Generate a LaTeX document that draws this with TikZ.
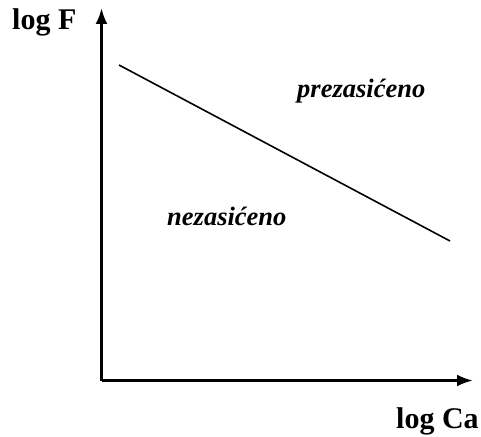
\documentclass[tikz,border=0pt]{standalone}
\usepackage{fontspec}
\setmainfont{Liberation Serif}
\usetikzlibrary{arrows.meta, positioning}

\begin{document}
\begin{tikzpicture}[x=1pt, y=-1pt,
    axis/.style={line width=2.8pt, -{Latex[length=16pt, width=12pt]}},
    border/.style={line width=1.6pt},
    axislabel/.style={font=\fontsize{30}{33}\selectfont\bfseries, inner sep=0pt, anchor=base west},
    region/.style={font=\fontsize{26.5}{30}\selectfont\bfseries\itshape, inner sep=0pt, anchor=base west}]
    % frame of the picture
    \useasboundingbox (0, 0) rectangle (481, 436);

    % Axes
    \coordinate (origin) at (101.5, 380.5);
    \coordinate (ytip) at (101.5, 8);
    \coordinate (xtip) at (473, 380.5);
    \draw[axis] (origin) -- (ytip);
    \draw[axis] (origin) -- (xtip);

    % Border line between the two regions
    \coordinate (bstart) at (119, 65);
    \coordinate (bend) at (450, 241);
    \draw[border] (bstart) -- (bend);

    % Labels
    \node[axislabel] (logF) at (12, 30) {log F};
    \node[axislabel] (logCa) at (396, 428) {log Ca};
    \node[region] (prez) at (297, 97) {prezasićeno};
    \node[region] (nez) at (167, 225) {nezasićeno};
\end{tikzpicture}
\end{document}
